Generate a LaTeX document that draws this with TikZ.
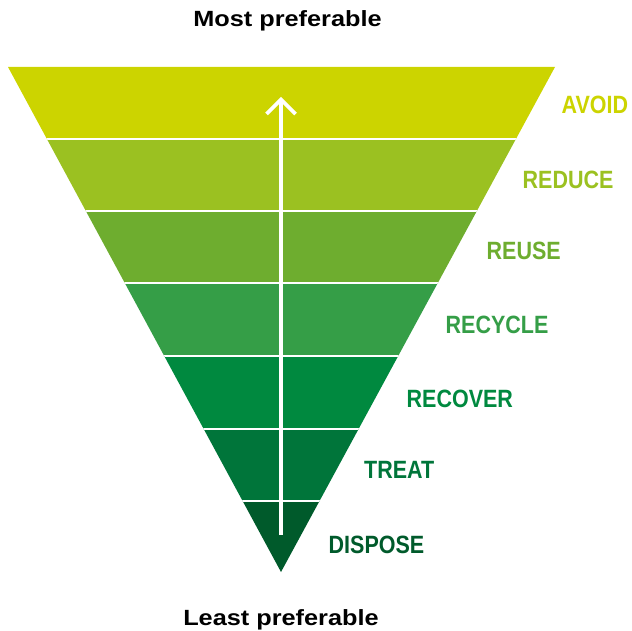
\documentclass[tikz,border=0pt]{standalone}
\usepackage{fontspec}
\newfontfamily\lblfont[FakeStretch=0.86]{Liberation Sans}
\newfontfamily\ttlfont[FakeStretch=1.15]{Liberation Sans}
\definecolor{cA}{HTML}{CCD400}
\definecolor{cB}{HTML}{9BC121}
\definecolor{cC}{HTML}{6EAD2F}
\definecolor{cD}{HTML}{359E47}
\definecolor{cE}{HTML}{00893F}
\definecolor{cF}{HTML}{00753A}
\definecolor{cG}{HTML}{005A2B}
\tikzset{
  lbl/.style={inner sep=0pt, anchor=base west, font=\lblfont\bfseries\fontsize{25}{28}\selectfont},
  ttl/.style={inner sep=0pt, anchor=base, font=\ttlfont\bfseries\fontsize{22}{26}\selectfont},
  sep/.style={white, line width=2pt},
  arr/.style={white, line width=3.8pt}
}
\begin{document}
\begin{tikzpicture}[x=1pt,y=-1pt]
\useasboundingbox (0,0) rectangle (632,631);
\coordinate (tl) at (8,67);
\coordinate (tr) at (555,67);
\coordinate (ap) at (281,572);
\begin{scope}
\clip (tl) -- (tr) -- (ap) -- cycle;
\fill[cA] (0,60) rectangle (632,139);
\fill[cB] (0,139) rectangle (632,211);
\fill[cC] (0,211) rectangle (632,283);
\fill[cD] (0,283) rectangle (632,356);
\fill[cE] (0,356) rectangle (632,429);
\fill[cF] (0,429) rectangle (632,501);
\fill[cG] (0,501) rectangle (632,580);
\foreach \yy in {139,211,283,356,429,501} \draw[sep] (0,\yy) -- (632,\yy);
\end{scope}
% arrow
\coordinate (abot) at (281,535);
\coordinate (atop) at (281,100);
\coordinate (aL) at (266.5,114);
\coordinate (aT) at (281,99.5);
\coordinate (aR) at (295.5,114);
\draw[arr] (abot) -- (atop);
\draw[arr, miter limit=10] (aL) -- (aT) -- (aR);
% labels
\node[lbl, text=cA] (avoid) at (561.5,114) {AVOID};
\node[lbl, text=cB] (reduce) at (522.5,189) {REDUCE};
\node[lbl, text=cC] (reuse) at (486.5,260) {REUSE};
\node[lbl, text=cD] (recycle) at (445.5,333) {RECYCLE};
\node[lbl, text=cE] (recover) at (406.5,407) {RECOVER};
\node[lbl, text=cF] (treat) at (364,478) {TREAT};
\node[lbl, text=cG] (dispose) at (328.5,553) {DISPOSE};
\node[ttl] (most) at (287.5,27) {Most preferable};
\node[ttl] (least) at (281,625) {Least preferable};
\end{tikzpicture}
\end{document}
